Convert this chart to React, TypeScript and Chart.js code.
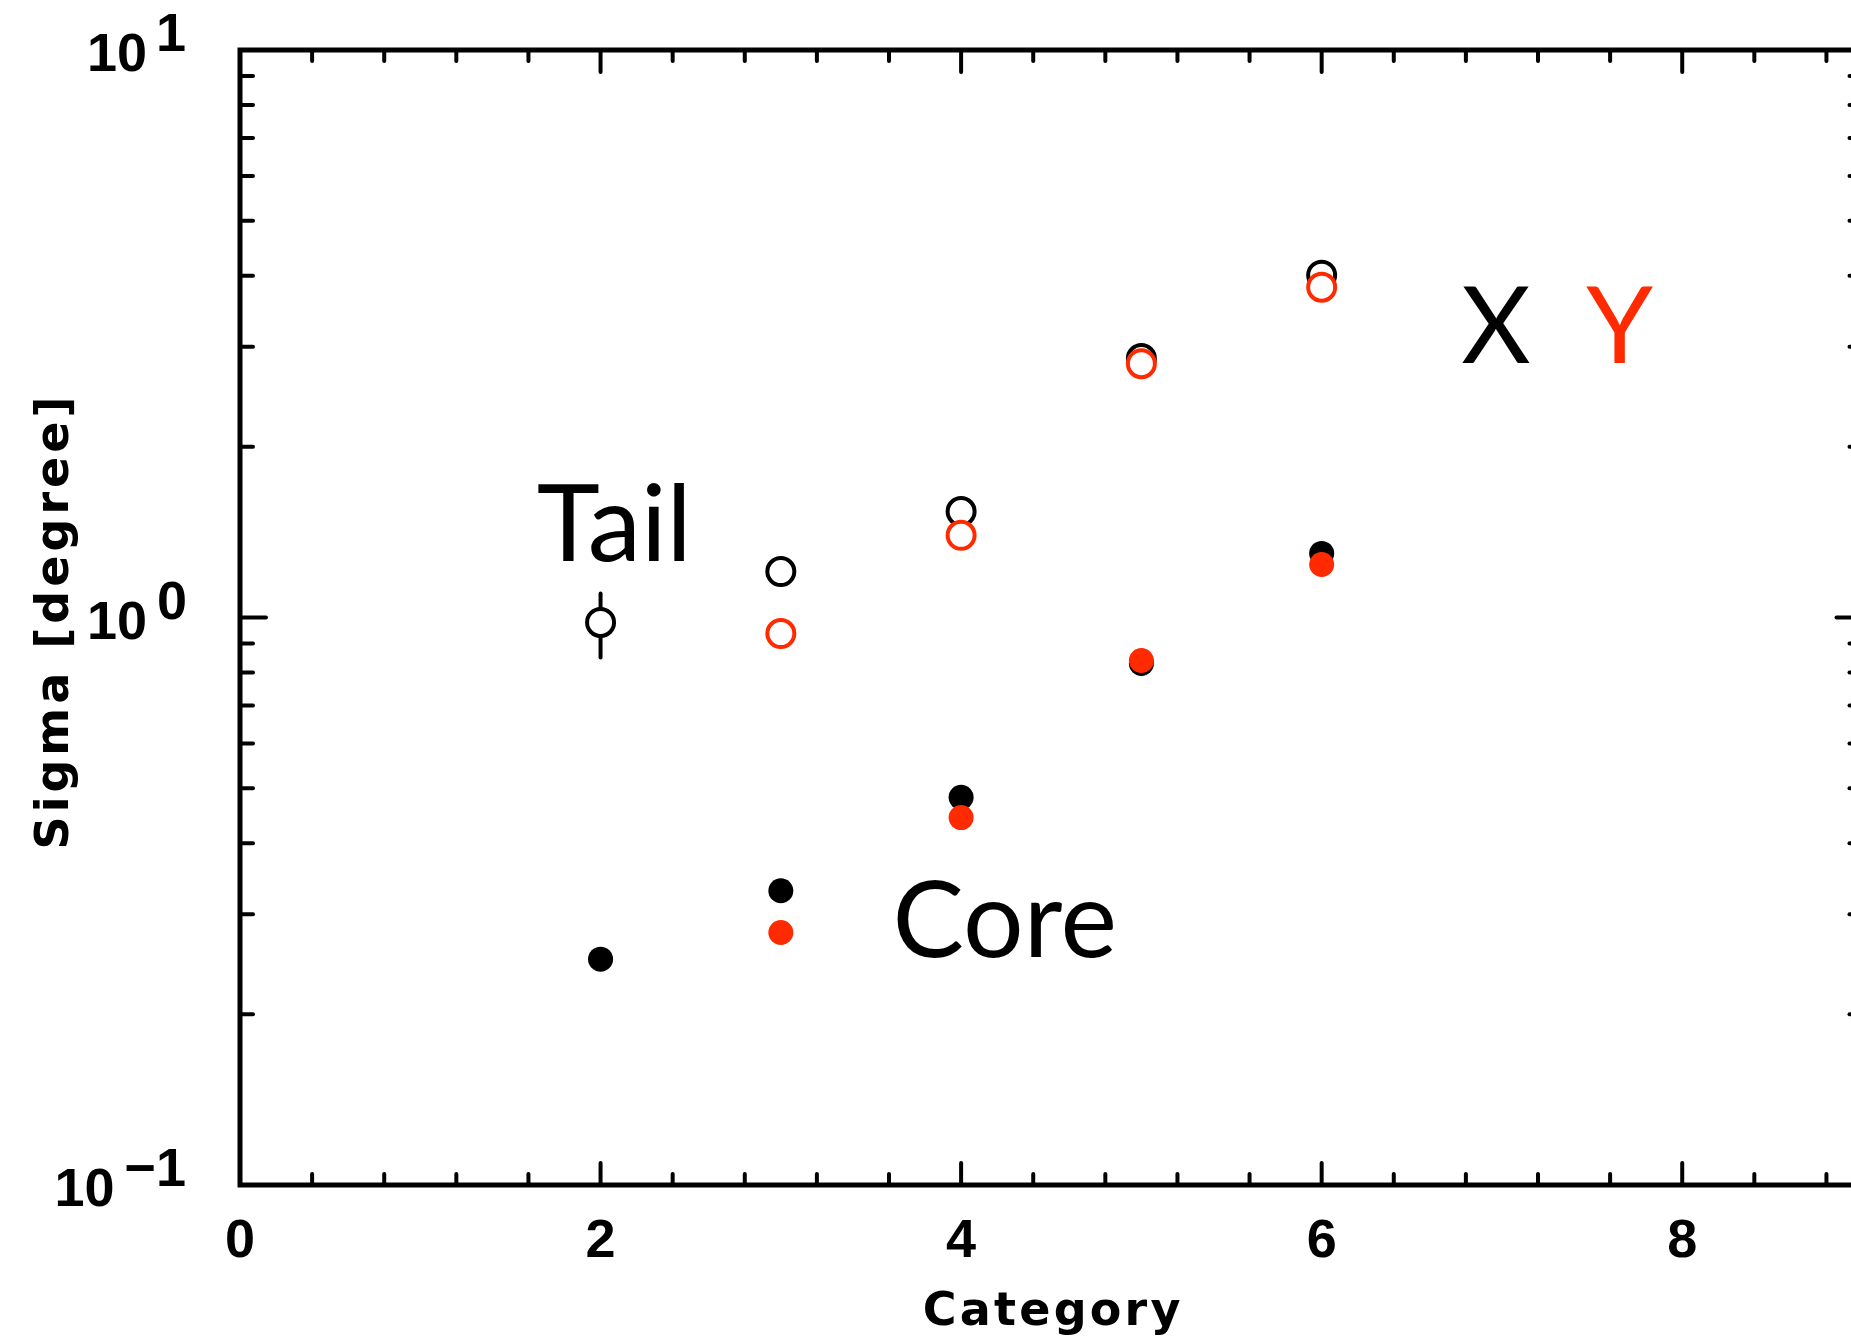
import React, { useEffect, useRef } from 'react';
import { Chart, registerables } from 'chart.js';

Chart.register(...registerables);

// ---------- data ----------
const tailXCats = [2, 3, 4, 5, 6];
const tailX = [0.98, 1.205, 1.537, 2.86, 4.01];
const tailYCats = [3, 4, 5, 6];
const tailY = [0.937, 1.396, 2.8, 3.82];
const coreXCats = [2, 3, 4, 5, 6];
const coreX = [0.25, 0.33, 0.482, 0.83, 1.297];
const coreYCats = [3, 4, 5, 6];
const coreY = [0.2786, 0.444, 0.84, 1.24];
const errCats = [2];
const errLow = [0.85];
const errHigh = [1.102];

const xTickValues = [0, 2, 4, 6, 8];
const xTickLabels = ['0', '2', '4', '6', '8'];
const yTickValues = [0.1, 1, 10];
const yTickBases = ['10', '10', '10'];
const yTickExps = ['\u22121', '0', '1'];

const xTitle = 'Category';
const yTitle = 'Sigma [degree]';

const annTexts = ['Tail', 'Core', 'X', 'Y'];
const annX = [1.646, 3.62, 6.774, 7.467];
const annY = [1.26, 0.252, 2.81, 2.81];
const annColors = ['#000000', '#000000', '#000000', '#ff2a00'];

const BLACK = '#000000';
const RED = '#ff2a00';
const W = 1880;
const H = 1343;

const framePlugin = {
  id: 'frame',
  beforeDatasetsDraw(chart: any) {
    const ctx = chart.ctx;
    const xs = chart.scales.x;
    const ys = chart.scales.y;
    ctx.save();
    ctx.strokeStyle = BLACK;
    ctx.lineWidth = 4;
    ctx.lineCap = 'round';
    errCats.forEach((c, i) => {
      const px = xs.getPixelForValue(c);
      ctx.beginPath();
      ctx.moveTo(px, ys.getPixelForValue(errLow[i]));
      ctx.lineTo(px, ys.getPixelForValue(errHigh[i]));
      ctx.stroke();
    });
    ctx.restore();
  },
  afterDraw(chart: any) {
    const ctx = chart.ctx;
    const xs = chart.scales.x;
    const ys = chart.scales.y;
    const a = chart.chartArea;
    ctx.save();

    // ticks
    ctx.strokeStyle = BLACK;
    ctx.lineWidth = 4;
    ctx.lineCap = 'round';
    const line = (x1: number, y1: number, x2: number, y2: number) => {
      ctx.beginPath();
      ctx.moveTo(x1, y1);
      ctx.lineTo(x2, y2);
      ctx.stroke();
    };
    for (let k = 0; k <= 22; k++) {
      const v = k * 0.4;
      if (v > xs.max + 1e-9) break;
      const px = xs.getPixelForValue(v);
      const major = k % 5 === 0;
      const len = major ? 22 : 11;
      line(px, a.bottom, px, a.bottom - len);
      line(px, a.top, px, a.top + len);
    }
    for (let e = -1; e <= 0; e++) {
      for (let m = 1; m <= 9; m++) {
        const v = m * Math.pow(10, e);
        const py = ys.getPixelForValue(v);
        const len = m === 1 ? 26 : 13;
        line(a.left, py, a.left + len, py);
        line(a.right, py, a.right - len, py);
      }
    }

    // frame
    ctx.lineWidth = 5;
    ctx.lineCap = 'butt';
    ctx.lineJoin = 'miter';
    ctx.strokeRect(a.left, a.top, a.right - a.left, a.bottom - a.top);

    // x tick labels
    ctx.fillStyle = BLACK;
    ctx.font = 'bold 54px "Liberation Sans"';
    ctx.textAlign = 'center';
    ctx.textBaseline = 'alphabetic';
    xTickValues.forEach((v, i) => {
      ctx.fillText(xTickLabels[i], xs.getPixelForValue(v), a.bottom + 72);
    });

    // y tick labels (base + superscript), aligned by ink
    const inkRight = 185;
    const inkGap = 14;
    ctx.textAlign = 'left';
    yTickValues.forEach((v, i) => {
      const py = ys.getPixelForValue(v);
      const ms = ctx.measureText(yTickExps[i]);
      const xsup = inkRight - ms.actualBoundingBoxRight;
      const supInkLeft = xsup - ms.actualBoundingBoxLeft;
      ctx.fillText(yTickExps[i], xsup, py + 1);
      const mb = ctx.measureText(yTickBases[i]);
      const xb = supInkLeft - inkGap - mb.actualBoundingBoxRight;
      ctx.fillText(yTickBases[i], xb, py + 21);
    });

    // axis titles
    ctx.font = 'bold 46px "DejaVu Sans"';
    ctx.textAlign = 'center';
    (ctx as any).letterSpacing = '3.2px';
    ctx.fillText(xTitle, (a.left + a.right) / 2 + 2, 1325);
    ctx.save();
    (ctx as any).letterSpacing = '4px';
    ctx.translate(68, 621);
    ctx.rotate(-Math.PI / 2);
    ctx.fillText(yTitle, 0, 0);
    ctx.restore();
    (ctx as any).letterSpacing = '0px';

    // annotations
    ctx.font = '107px Lato';
    ctx.textAlign = 'left';
    annTexts.forEach((t, i) => {
      ctx.fillStyle = annColors[i];
      ctx.fillText(t, xs.getPixelForValue(annX[i]), ys.getPixelForValue(annY[i]));
    });

    ctx.restore();
  },
};

const toPts = (cats: number[], vals: number[]) => cats.map((c, i) => ({ x: c, y: vals[i] }));

export default function App() {
  const ref = useRef<HTMLCanvasElement>(null);
  useEffect(() => {
    if (!ref.current) return;
    const openStyle = { pointRadius: 13.5, pointBorderWidth: 4, pointBackgroundColor: '#ffffff', showLine: false };
    const fillStyle = { pointRadius: 12.5, pointBorderWidth: 0, showLine: false };
    const chart = new Chart(ref.current, {
      type: 'scatter',
      data: {
        datasets: [
          { label: 'Tail Y', data: toPts(tailYCats, tailY), pointBorderColor: RED, borderColor: RED, ...openStyle, order: 0 },
          { label: 'Core Y', data: toPts(coreYCats, coreY), pointBackgroundColor: RED, backgroundColor: RED, borderColor: RED, ...fillStyle, order: 0 },
          { label: 'Tail X', data: toPts(tailXCats, tailX), pointBorderColor: BLACK, borderColor: BLACK, ...openStyle, order: 1 },
          { label: 'Core X', data: toPts(coreXCats, coreX), pointBackgroundColor: BLACK, backgroundColor: BLACK, borderColor: BLACK, ...fillStyle, order: 1 },
        ] as any,
      },
      options: {
        animation: false,
        responsive: false,
        maintainAspectRatio: false,
        devicePixelRatio: 1,
        events: [],
        layout: { padding: { left: 240, top: 50, right: W - 1863, bottom: H - 1185 } },
        plugins: { legend: { display: false }, tooltip: { enabled: false } },
        scales: {
          x: { type: 'linear', min: 0, max: 9, display: false },
          y: { type: 'logarithmic', min: 0.1, max: 10, display: false },
        },
      } as any,
      plugins: [framePlugin],
    });
    return () => chart.destroy();
  }, []);
  return (
    <div style={{ position: 'fixed', left: 0, top: 0, width: 1851, height: 1343, overflow: 'hidden', background: '#ffffff' }}>
      <canvas ref={ref} width={W} height={H} style={{ display: 'block', width: W, height: H }} />
    </div>
  );
}
